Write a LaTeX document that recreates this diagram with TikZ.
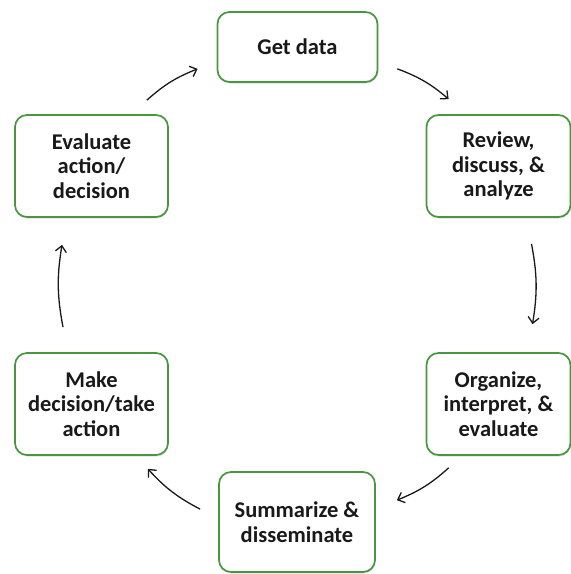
\documentclass[tikz,border=0pt]{standalone}
\usepackage{fontspec}
\setmainfont{Carlito}
\usetikzlibrary{arrows.meta}
\usetikzlibrary{shadows}
\definecolor{boxgreen}{RGB}{72,150,62}

\begin{document}
\begin{tikzpicture}[x=1pt,y=-1pt,>={Straight Barb[length=6pt,width=11pt]}]
		\tikzstyle{stage}=[draw=boxgreen,line width=1.7pt,rounded corners=12pt,fill=white,align=center,text=black!90,font=\fontsize{22.5}{24.5}\selectfont\bfseries,drop shadow={shadow xshift=0.5pt,shadow yshift=-1.5pt,opacity=0.25}]
		\tikzstyle{wide}=[minimum width=153pt,minimum height=102pt]
		\tikzstyle{cycle}=[->,line width=1.3pt,draw=black!90,bend left=10]
		
		\useasboundingbox (0,0) rectangle (571,574);
		
		\node[stage,minimum width=160pt,minimum height=70pt](get) at (297.5,47){Get data};
		\node[stage,minimum width=144pt,minimum height=102pt](review) at (498.5,166){Review,\\discuss, \&\\analyze};
		\node[stage,minimum width=144pt,minimum height=102pt](organize) at (498.5,404){Organize,\\interpret, \&\\evaluate};
		\node[stage,minimum width=156pt,minimum height=100pt](summ) at (297,522){Summarize \&\\disseminate};
		\node[stage,wide](make) at (91.5,404){Make\\decision/take\\action};
		\node[stage,wide](eval) at (91.5,166){Evaluate\\action/\\decision};
		
		\draw[cycle] ([shift={(-22,-14)}]eval.north east) to ([shift={(-19,-14)}]get.south west);
		\draw[cycle] ([shift={(19,-14)}]get.south east) to ([shift={(23,-15)}]review.north west);
		\draw[cycle] ([shift={(33,26)}]review.south) to ([shift={(34,-28)}]organize.north);
		\draw[cycle] ([shift={(23,12)}]organize.south west) to ([shift={(21,29)}]summ.north east);
		\draw[cycle] ([shift={(-18,38)}]summ.north west) to ([shift={(-21,13)}]make.south east);
		\draw[cycle] ([shift={(-28.5,-25)}]make.north) to ([shift={(-29.5,27)}]eval.south);
\end{tikzpicture}
\end{document}
